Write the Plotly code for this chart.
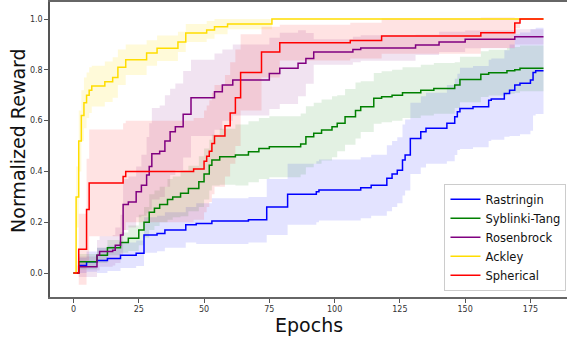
import numpy as np
import plotly.graph_objects as go

# ---------------- data ----------------
rast_x = [0, 2, 5, 9, 13, 18, 24, 27, 32, 35, 43, 47, 53, 67, 74, 82, 93, 94, 110, 114,
          120, 122, 124, 126, 127, 129, 133, 135, 143, 146, 147, 148, 153, 159, 160, 165,
          167, 169, 171, 175, 176, 177, 180]
rast_mean = [0, 0.03, 0.045, 0.05, 0.058, 0.07, 0.078, 0.15, 0.156, 0.17, 0.19, 0.195, 0.205,
             0.21, 0.26, 0.31, 0.32, 0.327, 0.336, 0.346, 0.373, 0.39, 0.405, 0.445, 0.465,
             0.53, 0.556, 0.57, 0.59, 0.615, 0.635, 0.648, 0.655, 0.68, 0.685, 0.707, 0.72,
             0.74, 0.747, 0.76, 0.79, 0.796, 0.796]
rast_std = [0, 0.03, 0.04, 0.05, 0.05, 0.05, 0.05, 0.07, 0.07, 0.07, 0.07, 0.08, 0.09, 0.09,
            0.11, 0.12, 0.12, 0.12, 0.12, 0.12, 0.13, 0.13, 0.13, 0.14, 0.14, 0.14, 0.14,
            0.14, 0.15, 0.15, 0.15, 0.16, 0.16, 0.16, 0.16, 0.17, 0.18, 0.2, 0.2, 0.2,
            0.17, 0.17, 0.17]

syb_x = [0, 2, 9, 13, 18, 21, 25, 27, 29, 31, 33, 36, 38, 41, 44, 48, 50, 52, 53, 56, 62,
         67, 71, 75, 87, 89, 92, 95, 99, 101, 104, 108, 110, 115, 118, 122, 126, 133, 138,
         146, 148, 156, 159, 166, 169, 171, 180]
syb_mean = [0, 0.045, 0.07, 0.10, 0.12, 0.137, 0.17, 0.20, 0.24, 0.255, 0.27, 0.29, 0.30,
            0.314, 0.333, 0.36, 0.39, 0.425, 0.445, 0.458, 0.465, 0.478, 0.49, 0.497, 0.508,
            0.537, 0.55, 0.563, 0.576, 0.59, 0.615, 0.64, 0.655, 0.688, 0.694, 0.70, 0.71,
            0.72, 0.727, 0.74, 0.762, 0.783, 0.789, 0.796, 0.80, 0.806, 0.806]
syb_std = [0, 0.03, 0.03, 0.03, 0.04, 0.05, 0.06, 0.06, 0.07, 0.07, 0.07, 0.08, 0.08, 0.09,
           0.09, 0.1, 0.1, 0.1, 0.1, 0.11, 0.12, 0.12, 0.12, 0.12, 0.12, 0.12, 0.12, 0.12,
           0.12, 0.11, 0.11, 0.11, 0.1, 0.1, 0.1, 0.1, 0.1, 0.1, 0.1, 0.09, 0.09, 0.09, 0.09,
           0.09, 0.09, 0.09, 0.09]

ros_x = [0, 2, 9, 10, 15, 16, 18, 19, 21, 24, 26, 28, 29, 30, 33, 35, 37, 39, 42, 45, 54,
         57, 61, 75, 79, 86, 89, 92, 107, 110, 131, 140, 150, 169, 180]
ros_mean = [0, 0.025, 0.07, 0.085, 0.09, 0.11, 0.15, 0.27, 0.28, 0.32, 0.346, 0.386, 0.42,
            0.47, 0.48, 0.52, 0.556, 0.576, 0.625, 0.69, 0.714, 0.74, 0.76, 0.786, 0.806,
            0.826, 0.845, 0.87, 0.88, 0.886, 0.898, 0.91, 0.92, 0.93, 0.93]
ros_std = [0, 0.04, 0.06, 0.06, 0.06, 0.07, 0.08, 0.1, 0.1, 0.1, 0.12, 0.15, 0.17, 0.18,
           0.18, 0.18, 0.17, 0.17, 0.17, 0.15, 0.15, 0.14, 0.14, 0.14, 0.14, 0.13, 0.1,
           0.05, 0.05, 0.05, 0.04, 0.04, 0.035, 0.03, 0.03]

ack_x = [0, 1, 2, 3, 4, 5, 6, 7, 12, 15, 17, 20, 28, 32, 40, 43, 51, 54, 59, 76, 180]
ack_mean = [0, 0.3, 0.52, 0.62, 0.67, 0.70, 0.72, 0.736, 0.753, 0.77, 0.81, 0.84, 0.866,
            0.885, 0.91, 0.945, 0.957, 0.97, 0.98, 1.0, 1.0]
ack_std = [0, 0.12, 0.12, 0.1, 0.1, 0.09, 0.09, 0.08, 0.08, 0.08, 0.07, 0.06, 0.05, 0.05,
           0.04, 0.035, 0.035, 0.03, 0.02, 0, 0]

sph_x = [0, 2, 5, 6, 19, 20, 46, 50, 51, 52, 53, 54, 58, 60, 62, 64, 72, 79, 106, 118,
         156, 169, 171, 180]
sph_mean = [0, 0.094, 0.25, 0.355, 0.38, 0.40, 0.41, 0.44, 0.46, 0.48, 0.51, 0.54, 0.58,
            0.63, 0.69, 0.79, 0.87, 0.907, 0.915, 0.933, 0.946, 0.984, 1.0, 1.0]
sph_std = [0, 0.14, 0.2, 0.21, 0.21, 0.2, 0.2, 0.2, 0.2, 0.2, 0.2, 0.2, 0.2, 0.2, 0.19,
           0.15, 0.1, 0.07, 0.07, 0.07, 0.06, 0.02, 0, 0]

names = ["Rastringin", "Syblinki-Tang", "Rosenbrock", "Ackley", "Spherical"]
x_ticks = [0, 25, 50, 75, 100, 125, 150, 175]
y_ticks = [0.0, 0.2, 0.4, 0.6, 0.8, 1.0]

# ---------------- styling ----------------
series = [
    (rast_x, rast_mean, rast_std, "#0000ff", "rgba(0,0,255,0.11)"),
    (syb_x, syb_mean, syb_std, "#008000", "rgba(0,128,0,0.11)"),
    (ros_x, ros_mean, ros_std, "#800080", "rgba(128,0,128,0.11)"),
    (ack_x, ack_mean, ack_std, "#FFDD00", "rgba(255,221,0,0.15)"),
    (sph_x, sph_mean, sph_std, "#ff0000", "rgba(255,0,0,0.11)"),
]

fig = go.Figure()
for (xs, m, s, col, fcol) in series:
    m = np.array(m); s = np.array(s)
    fig.add_trace(go.Scatter(x=xs, y=m + s, mode="lines", line=dict(width=0, shape="hv"),
                             showlegend=False, hoverinfo="skip"))
    fig.add_trace(go.Scatter(x=xs, y=m - s, mode="lines", line=dict(width=0, shape="hv"),
                             fill="tonexty", fillcolor=fcol, showlegend=False, hoverinfo="skip"))

for name, (xs, m, s, col, fcol) in zip(names, series):
    fig.add_trace(go.Scatter(x=xs, y=m, mode="lines", name=name,
                             line=dict(color=col, width=1.5, shape="hv")))

fig.update_layout(
    width=568, height=339,
    margin=dict(l=50, r=1, t=2, b=42),
    paper_bgcolor="white", plot_bgcolor="white",
    font=dict(family="DejaVu Sans", color="#222"),
    showlegend=True,
    legend=dict(x=0.999, xanchor="right", y=0.021, yanchor="bottom", traceorder="normal",
                bgcolor="rgba(255,255,255,0.85)", bordercolor="#cccccc", borderwidth=1,
                font=dict(size=11.5, family="DejaVu Sans", color="#111"),
                itemwidth=30, tracegroupgap=0),
)
fig.update_xaxes(range=[-9, 189], tickvals=x_ticks, ticktext=[str(v) for v in x_ticks],
                 ticks="outside", ticklen=4, tickcolor="#555", tickfont=dict(size=8, color="#333"),
                 showline=True, linecolor="#666", linewidth=1.5, mirror=True,
                 showgrid=False, zeroline=False, automargin=False)
fig.update_yaxes(range=[-0.094, 1.067], tickvals=y_ticks, ticktext=[f"{v:.1f}" for v in y_ticks],
                 ticks="outside", ticklen=4, tickcolor="#555", tickfont=dict(size=8, color="#333"),
                 showline=True, linecolor="#555", linewidth=1.5, mirror=False,
                 showgrid=False, zeroline=False, automargin=False)

fig.add_annotation(text="Epochs", xref="paper", yref="paper", x=0.5, y=0, yshift=-28,
                   xanchor="center", yanchor="middle", showarrow=False,
                   font=dict(size=19, family="DejaVu Sans", color="#111"))
fig.add_annotation(text="Normalized Reward", xref="paper", yref="paper", x=0, xshift=-32,
                   y=0.529, xanchor="center", yanchor="middle", textangle=-90, showarrow=False,
                   font=dict(size=19, family="DejaVu Sans", color="#111"))

fig.write_html("out.html", config={"displayModeBar": False},
               post_script="document.body.style.margin='0px';document.body.style.padding='0px';")
